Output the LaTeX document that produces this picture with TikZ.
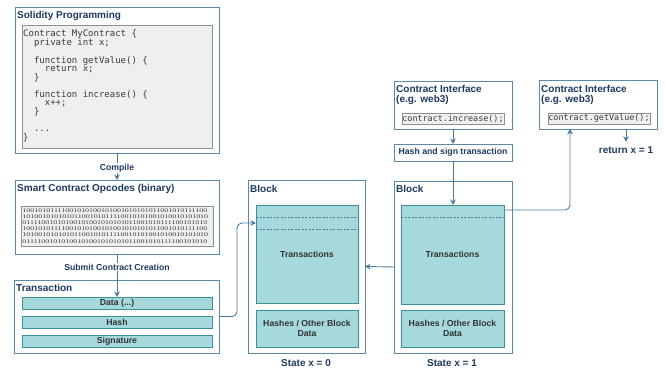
\documentclass[tikz,border=0pt]{standalone}
\usepackage{fontspec}
\setmainfont{Liberation Sans}
\newfontfamily\codefont{DejaVu Sans Mono}
\newfontfamily\bitsfont[FakeStretch=1.42]{Liberation Serif}
\usetikzlibrary{arrows.meta,calc}
\definecolor{framec}{HTML}{5B89AA}
\definecolor{navy}{HTML}{1E3A5F}
\definecolor{connc}{HTML}{4C7CA0}
\definecolor{tealf}{HTML}{A6D9DB}
\definecolor{tealb}{HTML}{3E8F97}
\definecolor{greyf}{HTML}{EFEFEF}
\definecolor{greyb}{HTML}{8F8F8F}
\definecolor{labelc}{HTML}{333333}
\definecolor{codec}{HTML}{3A3A3A}
\begin{document}
\begin{tikzpicture}[x=1pt,y=-1pt,
  frame/.style={draw=framec,line width=0.8pt,fill=white,inner sep=0pt,outer sep=0pt,anchor=north west},
  graybox/.style={draw=greyb,line width=0.8pt,fill=greyf,inner sep=0pt,outer sep=0pt,anchor=north west},
  tealbox/.style={draw=tealb,line width=1pt,fill=tealf,inner sep=0pt,outer sep=0pt,anchor=north west,
    font=\bfseries\fontsize{8.7}{9.5}\selectfont,text=labelc,align=center},
  ttl/.style={anchor=west,inner sep=0pt,font=\bfseries\fontsize{10}{10}\selectfont,text=navy,align=left},
  lbl/.style={inner sep=1pt,font=\bfseries\fontsize{8.7}{10}\selectfont,text=navy},
  state/.style={inner sep=0pt,font=\bfseries\fontsize{10}{10}\selectfont,text=navy},
  conn/.style={draw=connc,line width=0.9pt,-{Stealth[length=5.5pt,width=5.5pt]}},
  sep/.style={draw=connc,line width=0.6pt,dash pattern=on 2pt off 1.5pt},
  code/.style={inner sep=0pt,font=\codefont\fontsize{8.4}{9}\selectfont,text=codec},
]
\path[use as bounding box] (0,0) rectangle (665,370);

% --- Solidity source ---
\node[frame,minimum width=204,minimum height=146] (sol) at (15,7) {};
\node[ttl] (solt) at (17,16) {Solidity Programming};
\node[graybox,minimum width=190,minimum height=123] (solcode) at (22,25) {};
\node[anchor=north west,inner sep=0pt,align=left,text=codec,
      font=\codefont\fontsize{9}{8.56}\selectfont] (src) at (23,29.2) {%
Contract MyContract \{\\
\hphantom{xx}private int x;\\
~\\
\hphantom{xx}function getValue() \{\\
\hphantom{xxxx}return x;\\
\hphantom{xx}\}\\
~\\
\hphantom{xx}function increase() \{\\
\hphantom{xxxx}x++;\\
\hphantom{xx}\}\\
~\\
\hphantom{xx}...\\
\}};

% --- Opcodes ---
\node[frame,minimum width=204,minimum height=74] (ops) at (15,180) {};
\node[ttl] (opst) at (17,189) {Smart Contract Opcodes (binary)};
\node[graybox,minimum width=192,minimum height=40] (bin) at (21,206) {};
\node[anchor=north west,inner sep=0pt,align=left,text=codec,
      font=\bitsfont\fontsize{5.6}{6.2}\selectfont] (bits) at (22.3,208.2) {%
10010101111001010100101001010101011001010111100\\
10100101010101100101011110010101001010010101010\\
01111001010100101001010101011001010111100101010\\
10010101111001010100101001010101011001010111100\\
10100101010101100101011110010101001010010101010\\
01111001010100101001010101011001010111100101010};

% --- Transaction ---
\node[frame,minimum width=205,minimum height=73] (tx) at (14,280) {};
\node[ttl] (txt) at (16,287.5) {Transaction};
\node[tealbox,minimum width=190,minimum height=12] (data) at (22,297) {Data (...)};
\node[tealbox,minimum width=190,minimum height=12] (hash) at (22,316) {Hash};
\node[tealbox,minimum width=190,minimum height=12] (sig) at (22,335) {Signature};

% --- Block, state x = 0 ---
\node[frame,minimum width=117,minimum height=173] (blk1) at (248,180) {};
\node[ttl] (blk1t) at (250,189) {Block};
\node[tealbox,minimum width=102,minimum height=98] (tr1) at (256,205) {Transactions};
\node[tealbox,minimum width=102,minimum height=37] (hd1) at (256,310) {Hashes / Other Block\\Data};
\node[state] (st1) at (306,363) {State x = 0};
\draw[sep] ($(tr1.north west)+(0,12)$) -- ($(tr1.north east)+(0,12)$);
\draw[sep] ($(tr1.north west)+(0,24)$) -- ($(tr1.north east)+(0,24)$);

% --- Block, state x = 1 ---
\node[frame,minimum width=118,minimum height=172] (blk2) at (394,181) {};
\node[ttl] (blk2t) at (396,189) {Block};
\node[tealbox,minimum width=103,minimum height=99] (tr2) at (401,205) {Transactions};
\node[tealbox,minimum width=103,minimum height=37] (hd2) at (401,310) {Hashes / Other Block\\Data};
\node[state] (st2) at (452,363) {State x = 1};
\draw[sep] ($(tr2.north west)+(0,12)$) -- ($(tr2.north east)+(0,12)$);

% --- Contract interfaces ---
\node[frame,minimum width=118,minimum height=48] (ci1) at (394,81) {};
\node[ttl] (ci1t) at (396,95) {Contract Interface\\(e.g. web3)};
\node[graybox,minimum width=102,minimum height=11] (ci1c) at (402,113) {};
\node[code] (ci1s) at (ci1c) {contract.increase();};

\node[frame,minimum width=118,minimum height=17] (hs) at (394,144) {};
\node[lbl] (hst) at (hs) {Hash and sign transaction};

\node[frame,minimum width=118,minimum height=49] (ci2) at (539,80) {};
\node[ttl] (ci2t) at (541,95) {Contract Interface\\(e.g. web3)};
\node[graybox,minimum width=102,minimum height=11] (ci2c) at (548,113) {};
\node[code] (ci2s) at (ci2c) {contract.getValue();};
\node[state] (ret) at (626,150.5) {return x = 1};

% --- connectors ---
\draw[conn] (sol) -- node[lbl,fill=white,pos=0.55] {Compile} (ops);
\draw[conn] (ops) -- node[lbl,fill=white,pos=0.3] {Submit Contract Creation} (data);

\coordinate (in1) at ($(tr1.north west)+(0,18)$);
\draw[conn,rounded corners=5pt] (tx.east) -- ++(18,0) |- (in1);

\draw[conn] (blk2.west) -- (blk1.east);

\draw[conn] (ci1.south -| hs.north) -- (hs.north);
\draw[conn] (hs.south) -- (hs.south |- tr2.north);

\coordinate (out2) at ($(tr2.north east)+(0,5)$);
\coordinate (ci2in) at ($(ci2.south west)+(31,0)$);
\draw[conn,rounded corners=5pt] (out2) -| (ci2in);

\draw[conn,shorten >=5pt] (ci2.south -| ret.north) -- (ret.north);
\end{tikzpicture}
\end{document}
